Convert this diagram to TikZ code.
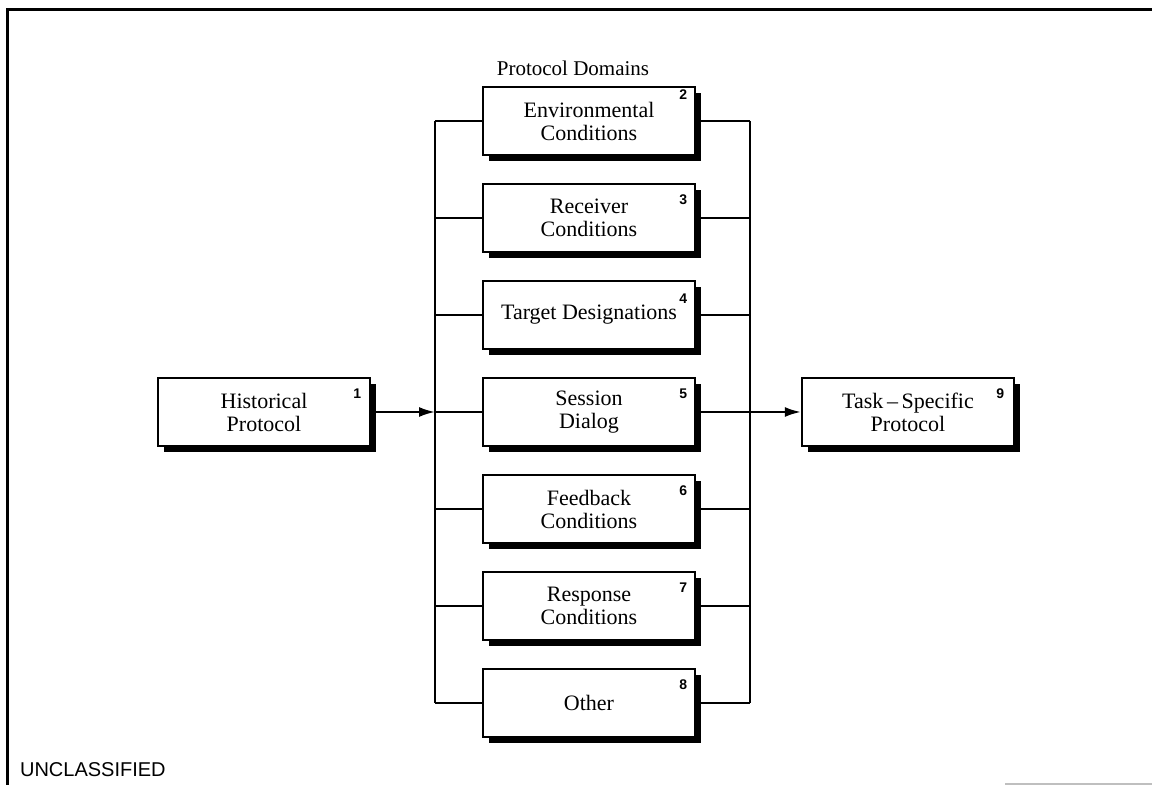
\documentclass[tikz,border=0pt]{standalone}
\usepackage{fontspec}
\setmainfont{Liberation Serif}
\setsansfont{Liberation Sans}
\usetikzlibrary{arrows.meta,positioning,shadows}

\tikzset{
  box/.style={draw, line width=1.2pt, fill=white, minimum width=106pt, minimum height=34pt,
    align=center, font=\fontsize{11}{11.5}\selectfont,
    drop shadow={shadow xshift=3.2pt, shadow yshift=-3.2pt, fill=black, opacity=1}},
  num/.style={font=\sffamily\bfseries\fontsize{7}{8}\selectfont, inner sep=0pt},
  link/.style={line width=1pt},
}

\begin{document}
\begin{tikzpicture}[x=0.5pt, y=-0.5pt, node distance=48.5pt, on grid,
    >={Latex[length=8pt, width=5pt]}]
  \useasboundingbox (0,0) rectangle (1152,785);

  % frame
  \draw[line width=1.5pt] (1152,10) -- (7,10) -- (7,785);
  \draw[gray!50, line width=0.6pt] (1005,784) -- (1152,784);

  \node[font=\fontsize{10.5}{12}\selectfont] (title) at (573,68) {Protocol Domains};

  \node[box]               (env)  at (589,121) {Environmental\\Conditions};
  \node[box, below=of env] (rec)  {Receiver\\Conditions};
  \node[box, below=of rec] (tar)  {Target Designations};
  \node[box, below=of tar] (ses)  {Session\\Dialog};
  \node[box, below=of ses] (fee)  {Feedback\\Conditions};
  \node[box, below=of fee] (res)  {Response\\Conditions};
  \node[box, below=of res] (oth)  {Other};

  \node[box, left=162.5pt of ses] (hist) {Historical\\Protocol};
  \node[box, right=159.5pt of ses] (task) {Task\,--\,Specific\\Protocol};

  % item numbers
  \node[num] (n1) at ([xshift=-7pt, yshift=-8.5pt]hist.north east) {1};
  \node[num] (n2) at ([xshift=-6.5pt, yshift=-4.5pt]env.north east) {2};
  \node[num] (n3) at ([xshift=-6.5pt, yshift=-8.5pt]rec.north east) {3};
  \node[num] (n4) at ([xshift=-6.5pt, yshift=-9.5pt]tar.north east) {4};
  \node[num] (n5) at ([xshift=-6.5pt, yshift=-8.5pt]ses.north east) {5};
  \node[num] (n6) at ([xshift=-6.5pt, yshift=-8.5pt]fee.north east) {6};
  \node[num] (n7) at ([xshift=-6.5pt, yshift=-8.5pt]res.north east) {7};
  \node[num] (n8) at ([xshift=-6.5pt, yshift=-8.5pt]oth.north east) {8};
  \node[num] (n9) at ([xshift=-7.5pt, yshift=-8.5pt]task.north east) {9};

  % buses
  \coordinate (lbus) at (435,0);
  \coordinate (rbus) at (750,0);
  \foreach \b in {env,rec,tar,ses,fee,res,oth}
    \draw[link] (\b.west) -- (\b.west -| lbus);
  \foreach \b in {env,rec,tar,fee,res,oth}
    \draw[link] (\b.east) -- (\b.east -| rbus);
  \draw[link] (env.west -| lbus) -- (oth.west -| lbus);
  \draw[link] (env.east -| rbus) -- (oth.east -| rbus);

  \draw[link, ->] (hist.east) -- (hist.east -| lbus);
  \draw[link, ->] (ses.east) -- (task.west);

  \node[font=\sffamily\fontsize{10}{12}\selectfont, anchor=west] (mark) at (13,770) {UNCLASSIFIED};
\end{tikzpicture}
\end{document}
